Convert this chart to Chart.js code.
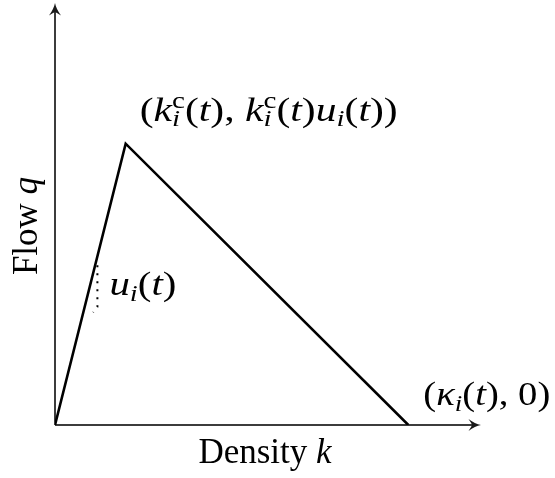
<!DOCTYPE html>
<html>
<head>
<meta charset="utf-8">
<script src="https://cdn.jsdelivr.net/npm/chart.js@4.4.1/dist/chart.umd.min.js"></script>
<style>
  html, body { margin: 0; padding: 0; background: #fff; }
  #wrap { width: 555px; height: 478px; }
</style>
</head>
<body>
<div id="wrap"><canvas id="fd" width="555" height="478"></canvas></div>
<script>
// Triangular fundamental diagram: origin, critical point, jam density
const densityPoints = [0, 1, 5];
const flowPoints = [0, 4, 0];

// Short dotted mark beside the free-flow branch (slope u_i(t))
const slopeMarkX = [0.6, 0.6, 0.54];
const slopeMarkY = [2.27, 1.68, 1.6];

// Axis extents (both axes run to the arrow tips)
const densityRange = [0, 6];
const flowRange = [0, 6];

const SERIF = '"Liberation Serif", "Times New Roman", serif';

function toXY(xs, ys) {
  return xs.map((x, i) => ({ x: x, y: ys[i] }));
}

function setFont(ctx, p, size) {
  const s = p.script ? size * 0.7 : size;
  ctx.font = (p.italic ? 'italic ' : '') + s + 'px ' + SERIF;
}

// Lays out a run of text pieces (italic / sub / sup; "stack" shares the
// previous script position) and returns the x offsets and total width.
function layoutMath(ctx, pieces, size) {
  let cx = 0, stackStart = 0, stackWidth = 0;
  const pos = [];
  pieces.forEach(p => {
    setFont(ctx, p, size);
    const w = ctx.measureText(p.t).width;
    if (p.stack) {
      pos.push(stackStart);
      stackWidth = Math.max(stackWidth, w);
      cx = stackStart + stackWidth;
    } else {
      pos.push(cx);
      stackStart = cx;
      stackWidth = w;
      cx += w;
    }
  });
  return { pos: pos, width: cx };
}

// Draws the run with its left edge at x and baseline y, optionally
// stretched horizontally to a given width.
function drawMath(ctx, pieces, x, y, size, width) {
  const lay = layoutMath(ctx, pieces, size);
  const sx = width ? width / lay.width : 1;
  ctx.save();
  ctx.translate(x, y);
  ctx.scale(sx, 1);
  pieces.forEach((p, i) => {
    setFont(ctx, p, size);
    let dy = 0;
    if (p.script === 'sub') dy = size * 0.17;
    if (p.script === 'sup') dy = -size * 0.36;
    ctx.fillText(p.t, lay.pos[i], dy);
  });
  ctx.restore();
  return lay.width * sx;
}

function arrowHead(ctx, tx, ty, angle) {
  ctx.save();
  ctx.translate(tx, ty);
  ctx.rotate(angle);
  ctx.beginPath();
  ctx.moveTo(0, 0);
  ctx.quadraticCurveTo(-6, -1.2, -12.5, -6);
  ctx.quadraticCurveTo(-9.5, -1.8, -9, 0);
  ctx.quadraticCurveTo(-9.5, 1.8, -12.5, 6);
  ctx.quadraticCurveTo(-6, 1.2, 0, 0);
  ctx.closePath();
  ctx.fill();
  ctx.restore();
}

const diagramDecor = {
  id: 'diagramDecor',
  beforeDatasetsDraw(chart) {
    const { ctx, scales } = chart;
    const xs = scales.x, ys = scales.y;
    const ox = xs.getPixelForValue(0), oy = ys.getPixelForValue(0);
    const xEnd = xs.getPixelForValue(densityRange[1]) + 2;
    const yEnd = ys.getPixelForValue(flowRange[1]);
    ctx.save();
    ctx.strokeStyle = '#3c3c3c';
    ctx.fillStyle = '#1a1a1a';
    ctx.lineWidth = 2;
    ctx.beginPath();
    ctx.moveTo(ox, oy);
    ctx.lineTo(xEnd - 4, oy);
    ctx.moveTo(ox, oy);
    ctx.lineTo(ox, yEnd + 4);
    ctx.stroke();
    arrowHead(ctx, xEnd, oy, 0);
    arrowHead(ctx, ox, yEnd, -Math.PI / 2);
    ctx.restore();
  },
  afterDatasetsDraw(chart) {
    const { ctx, scales } = chart;
    const xs = scales.x, ys = scales.y;
    ctx.save();
    ctx.fillStyle = '#000';
    ctx.textBaseline = 'alphabetic';
    ctx.textAlign = 'left';

    // critical point label
    const px = xs.getPixelForValue(densityPoints[1]);
    const py = ys.getPixelForValue(flowPoints[1]);
    drawMath(ctx, [
      { t: '(' }, { t: 'k', italic: true },
      { t: 'c', script: 'sup' }, { t: 'i', italic: true, script: 'sub', stack: true },
      { t: '(' }, { t: 't', italic: true }, { t: '), ' },
      { t: 'k', italic: true },
      { t: 'c', script: 'sup' }, { t: 'i', italic: true, script: 'sub', stack: true },
      { t: '(' }, { t: 't', italic: true }, { t: ')' },
      { t: 'u', italic: true }, { t: 'i', italic: true, script: 'sub' },
      { t: '(' }, { t: 't', italic: true }, { t: '))' }
    ], px + 14, py - 23, 34, 258);

    // slope label
    drawMath(ctx, [
      { t: 'u', italic: true }, { t: 'i', italic: true, script: 'sub' },
      { t: '(' }, { t: 't', italic: true }, { t: ')' }
    ], xs.getPixelForValue(slopeMarkX[0]) + 12, ys.getPixelForValue(slopeMarkY[0]) + 30, 34, 67);

    // jam density label
    const jx = xs.getPixelForValue(densityPoints[2]);
    const jy = ys.getPixelForValue(flowPoints[2]);
    drawMath(ctx, [
      { t: '(' }, { t: 'κ', italic: true }, { t: 'i', italic: true, script: 'sub' },
      { t: '(' }, { t: 't', italic: true }, { t: '), 0)' }
    ], jx + 15, jy - 20, 34, 127);

    // axis titles
    const ca = chart.chartArea;
    const xTitle = [{ t: 'Density ' }, { t: 'k', italic: true }];
    const xw = layoutMath(ctx, xTitle, 35).width;
    drawMath(ctx, xTitle, 265 - xw / 2, ca.bottom + 38, 35);

    const yTitle = [{ t: 'Flow ' }, { t: 'q', italic: true }];
    const fw = layoutMath(ctx, yTitle, 35).width;
    ctx.translate(37, 226);
    ctx.rotate(-Math.PI / 2);
    drawMath(ctx, yTitle, -fw / 2, 0, 35);
    ctx.restore();
  }
};

new Chart(document.getElementById('fd'), {
  type: 'scatter',
  data: {
    datasets: [
      {
        label: 'Flow',
        data: toXY(densityPoints, flowPoints),
        showLine: true,
        borderColor: '#000',
        borderWidth: 2.6,
        borderCapStyle: 'butt',
        borderJoinStyle: 'miter',
        pointRadius: 0,
        tension: 0
      },
      {
        label: 'Slope',
        data: toXY(slopeMarkX, slopeMarkY),
        showLine: true,
        borderColor: '#000',
        borderWidth: 2,
        borderDash: [1.8, 6.2],
        borderCapStyle: 'butt',
        pointRadius: 0,
        tension: 0
      }
    ]
  },
  options: {
    responsive: false,
    animation: false,
    layout: { padding: { left: 55, right: 76, top: 3, bottom: 53 } },
    plugins: { legend: { display: false }, tooltip: { enabled: false } },
    scales: {
      x: { type: 'linear', min: densityRange[0], max: densityRange[1], display: false },
      y: { type: 'linear', min: flowRange[0], max: flowRange[1], display: false }
    }
  },
  plugins: [diagramDecor]
});
</script>
</body>
</html>
